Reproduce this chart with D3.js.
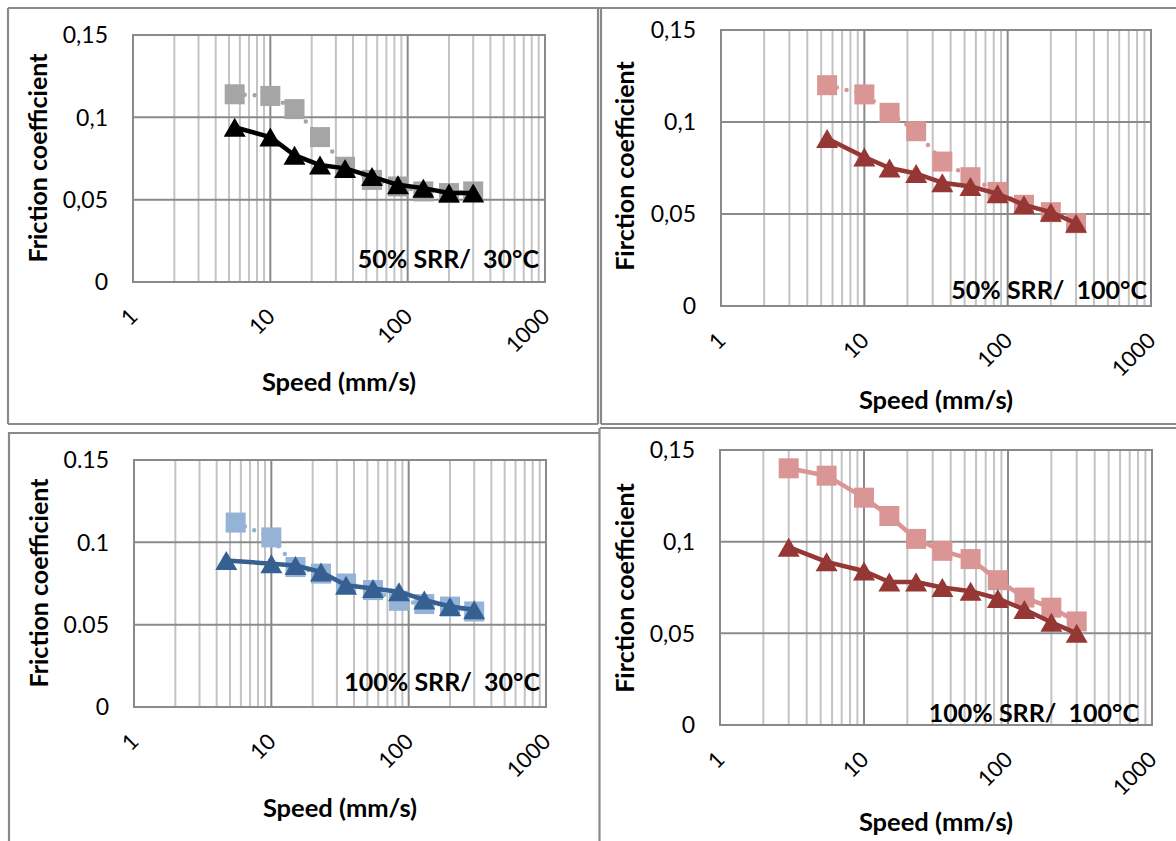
<!DOCTYPE html>
<html><head><meta charset="utf-8">
<script src="https://cdn.jsdelivr.net/npm/d3@7"></script>
<style>body{margin:0;background:#fff} svg{display:block}</style>
</head><body>
<svg id="c" width="1176" height="841"></svg>
<script>
// ---------- data ----------
const xTickValues = [1, 10, 100, 1000];
const xTickLabels = ["1", "10", "100", "1000"];
const yTickValues = [0, 0.05, 0.1, 0.15];
const yTickLabelsComma = ["0", "0,05", "0,1", "0,15"];
const yTickLabelsDot = ["0", "0.05", "0.1", "0.15"];

const speeds = [5.5, 10, 15, 23, 35, 55, 85, 130, 200, 300];
const speedsP3Triangle = [4.7, 10, 15, 23, 35, 55, 85, 130, 200, 300];
const speedsP4 = [3, 5.5, 10, 15, 23, 35, 55, 85, 130, 200, 300];

const p1Square   = [0.114, 0.113, 0.105, 0.088, 0.070, 0.062, 0.058, 0.055, 0.054, 0.055];
const p1Triangle = [0.094, 0.088, 0.077, 0.071, 0.069, 0.064, 0.059, 0.057, 0.054, 0.054];
const p2Square   = [0.120, 0.115, 0.105, 0.095, 0.0785, 0.070, 0.062, 0.055, 0.051, 0.045];
const p2Triangle = [0.091, 0.081, 0.075, 0.072, 0.067, 0.065, 0.061, 0.055, 0.051, 0.045];
const p3Square   = [0.112, 0.103, 0.085, 0.081, 0.075, 0.071, 0.0645, 0.0625, 0.061, 0.058];
const p3Triangle = [0.089, 0.087, 0.086, 0.082, 0.074, 0.072, 0.070, 0.065, 0.061, 0.059];
const p4Square   = [0.140, 0.136, 0.124, 0.114, 0.1015, 0.095, 0.0905, 0.079, 0.0695, 0.064, 0.0565];
const p4Triangle = [0.097, 0.089, 0.084, 0.078, 0.078, 0.075, 0.073, 0.069, 0.063, 0.056, 0.050];

const panelLabels = ["50% SRR/  30°C", "50% SRR/  100°C", "100% SRR/  30°C", "100% SRR/  100°C"];
const yAxisTitles = ["Friction coefficient", "Firction coefficient", "Friction coefficient", "Firction coefficient"];
const xAxisTitle = "Speed (mm/s)";

// ---------- layout / style ----------
const FONT = "Lato, 'Open Sans', sans-serif";
const panels = [
  { plot: {l: 133, r: 545, t: 35, b: 282}, yLabels: yTickLabelsComma, yTitle: yAxisTitles[0],
    yTitleX: 47, yTitleY: 158, xTitleY: 391, label: panelLabels[0], labelX: 539, labelY: 268,
    series: [
      {x: speeds, y: p1Square, shape: "square", color: "#a5a5a5", dotted: true},
      {x: speeds, y: p1Triangle, shape: "triangle", color: "#000000", dotted: false}
    ]},
  { plot: {l: 721, r: 1151, t: 30, b: 306}, yLabels: yTickLabelsComma, yTitle: yAxisTitles[1],
    yTitleX: 634, yTitleY: 166, xTitleY: 409, label: panelLabels[1], labelX: 1147, labelY: 299,
    series: [
      {x: speeds, y: p2Square, shape: "square", color: "#d99694", dotted: true},
      {x: speeds, y: p2Triangle, shape: "triangle", color: "#953735", dotted: false}
    ]},
  { plot: {l: 134, r: 546, t: 460, b: 707}, yLabels: yTickLabelsDot, yTitle: yAxisTitles[2],
    yTitleX: 48, yTitleY: 583, xTitleY: 817, label: panelLabels[2], labelX: 540, labelY: 691,
    series: [
      {x: speeds, y: p3Square, shape: "square", color: "#95b3d7", dotted: true},
      {x: speedsP3Triangle, y: p3Triangle, shape: "triangle", color: "#376092", dotted: false}
    ]},
  { plot: {l: 720, r: 1152, t: 450, b: 725}, yLabels: yTickLabelsComma, yTitle: yAxisTitles[3],
    yTitleX: 634, yTitleY: 588, xTitleY: 831, label: panelLabels[3], labelX: 1139, labelY: 722,
    series: [
      {x: speedsP4, y: p4Square, shape: "square", color: "#d99694", dotted: false},
      {x: speedsP4, y: p4Triangle, shape: "triangle", color: "#953735", dotted: false}
    ]}
];

const svg = d3.select("#c");
svg.append("rect").attr("width", 1176).attr("height", 841).attr("fill", "#fff");

// outer table borders
const borderColor = "#8a8a8a";
const borders = [
  [8, 8, 598, 8], [8, 8, 8, 424], [8, 424, 598, 424], [598, 8, 598, 424],
  [598, 8, 1176, 8], [601, 8, 601, 424], [601, 424, 1176, 424],
  [8, 433, 599, 433], [9, 433, 9, 841], [599.5, 428, 599.5, 841],
  [600, 428, 1176, 428]
];
svg.append("g").selectAll("line").data(borders).join("line")
  .attr("x1", d => d[0]).attr("y1", d => d[1]).attr("x2", d => d[2]).attr("y2", d => d[3])
  .attr("stroke", borderColor).attr("stroke-width", 2.2);

const isMajor = t => Math.abs(Math.log10(t) - Math.round(Math.log10(t))) < 1e-9;

panels.forEach(p => {
  const g = svg.append("g");
  const x = d3.scaleLog().domain([1, 1000]).range([p.plot.l, p.plot.r]);
  const y = d3.scaleLinear().domain([0, 0.15]).range([p.plot.b, p.plot.t]);

  const allX = x.ticks();
  // minor vertical gridlines
  g.append("g").selectAll("line").data(allX.filter(t => !isMajor(t))).join("line")
    .attr("x1", d => x(d)).attr("x2", d => x(d)).attr("y1", p.plot.t).attr("y2", p.plot.b)
    .attr("stroke", "#c3c3c3").attr("stroke-width", 2);
  // major vertical gridlines
  g.append("g").selectAll("line").data(allX.filter(t => isMajor(t))).join("line")
    .attr("x1", d => x(d)).attr("x2", d => x(d)).attr("y1", p.plot.t).attr("y2", p.plot.b)
    .attr("stroke", "#8a8a8a").attr("stroke-width", 2);
  // horizontal gridlines
  g.append("g").selectAll("line").data(yTickValues).join("line")
    .attr("x1", p.plot.l).attr("x2", p.plot.r).attr("y1", d => y(d)).attr("y2", d => y(d))
    .attr("stroke", "#8a8a8a").attr("stroke-width", 2);
  // frame
  g.append("rect").attr("x", p.plot.l).attr("y", p.plot.t)
    .attr("width", p.plot.r - p.plot.l).attr("height", p.plot.b - p.plot.t)
    .attr("fill", "none").attr("stroke", "#8a8a8a").attr("stroke-width", 2);

  // y tick labels
  g.append("g").selectAll("text").data(yTickValues).join("text")
    .attr("x", p.plot.l - 25).attr("y", d => y(d)).attr("dy", "0.36em")
    .attr("text-anchor", "end").attr("font-family", FONT).attr("font-size", 23).attr("fill", "#000")
    .text((d, i) => p.yLabels[i]);

  // x tick labels (rotated)
  g.append("g").selectAll("text").data(xTickValues).join("text")
    .attr("transform", d => `translate(${x(d) + 6},${p.plot.b + 36}) rotate(-45)`)
    .attr("text-anchor", "end").attr("font-family", FONT).attr("font-size", 22).attr("fill", "#000")
    .text((d, i) => xTickLabels[i]);

  // axis titles
  g.append("text")
    .attr("transform", `translate(${p.yTitleX},${p.yTitleY}) rotate(-90)`)
    .attr("text-anchor", "middle").attr("font-family", FONT).attr("font-weight", "bold")
    .attr("font-size", 25).attr("fill", "#000").text(p.yTitle);
  g.append("text")
    .attr("x", (p.plot.l + p.plot.r) / 2).attr("y", p.xTitleY)
    .attr("text-anchor", "middle").attr("font-family", FONT).attr("font-weight", "bold")
    .attr("font-size", 25.5).attr("fill", "#000").text(xAxisTitle);

  // series
  const line = d3.line().x(d => x(d[0])).y(d => y(d[1]));
  p.series.forEach(s => {
    const pts = s.x.map((v, i) => [v, s.y[i]]);
    const sg = g.append("g");
    const path = sg.append("path").datum(pts).attr("d", line)
      .attr("fill", "none").attr("stroke", s.color)
      .attr("stroke-width", 4.5).attr("stroke-linejoin", "round");
    if (s.dotted) path.attr("stroke-dasharray", "0 10").attr("stroke-linecap", "round");
    if (s.shape === "square") {
      const sz = 20;
      sg.selectAll("rect").data(pts).join("rect")
        .attr("x", d => x(d[0]) - sz / 2).attr("y", d => y(d[1]) - sz / 2)
        .attr("width", sz).attr("height", sz).attr("fill", s.color);
    } else {
      const w = 22, h = 19;
      sg.selectAll("path.m").data(pts).join("path").attr("class", "m")
        .attr("d", d => {
          const cx = x(d[0]), cy = y(d[1]);
          return `M${cx},${cy - h / 2}L${cx + w / 2},${cy + h / 2}L${cx - w / 2},${cy + h / 2}Z`;
        })
        .attr("fill", s.color);
    }
  });

  // panel annotation
  g.append("text").attr("x", p.labelX).attr("y", p.labelY)
    .attr("text-anchor", "end").attr("font-family", FONT).attr("font-weight", "bold")
    .attr("font-size", 25).attr("fill", "#000").style("white-space", "pre")
    .text(p.label);
});
</script>
</body></html>
